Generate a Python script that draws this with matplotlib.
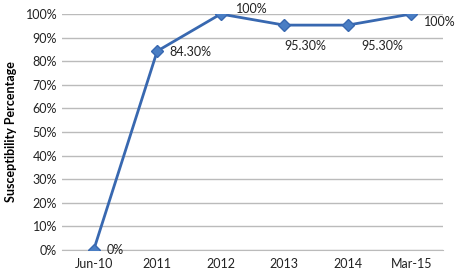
import matplotlib
matplotlib.use("Agg")
import matplotlib.pyplot as plt  # noqa
from matplotlib.ticker import PercentFormatter

categories = ["Jun-10", "2011", "2012", "2013", "2014", "Mar-15"]
susceptibility = [0.0, 84.3, 100.0, 95.3, 95.3, 100.0]
point_labels = ["0%", "84.30%", "100%", "95.30%", "95.30%", "100%"]
# label offsets in points (dx, dy)
label_offsets = [(9, 0), (9, -1), (11, 3.5), (0, -15), (10, -15), (9, -6)]

plt.rcParams["font.family"] = ["Lato", "DejaVu Sans"]

fig = plt.figure(figsize=(4.59, 2.75), dpi=100)
ax = fig.add_axes([0.135, 0.091, 0.83, 0.858])

x = list(range(len(categories)))
ax.plot(x, susceptibility, color="#3868B0", linewidth=2, marker="D",
        markersize=6, markerfacecolor="#4A7EC4", markeredgecolor="#3868B0",
        zorder=3)

for xi, yi, lab, (dx, dy) in zip(x, susceptibility, point_labels,
                                 label_offsets):
    ax.annotate(lab, (xi, yi), xytext=(dx, dy), textcoords="offset points",
                ha="left", va="center", fontsize=9, color="#222222")

ax.set_xlim(-0.5, len(categories) - 0.5)
ax.set_ylim(0, 100)
ax.set_yticks(range(0, 101, 10))
ax.yaxis.set_major_formatter(PercentFormatter(decimals=0))
ax.set_xticks(x)
ax.set_xticklabels(categories)
ax.tick_params(axis="both", length=0, labelsize=9, colors="#222222")
ax.tick_params(axis="x", pad=6)
ax.grid(axis="y", color="#BBBBBB", linewidth=1)
ax.set_axisbelow(True)
for side in ["top", "right", "left"]:
    ax.spines[side].set_visible(False)
ax.spines["bottom"].set_color("#BBBBBB")
ax.set_ylabel("Susceptibility Percentage", fontsize=9, fontweight="bold")
ax.yaxis.set_label_coords(-0.118, 0.5)

fig.savefig("out.png", dpi=100)
